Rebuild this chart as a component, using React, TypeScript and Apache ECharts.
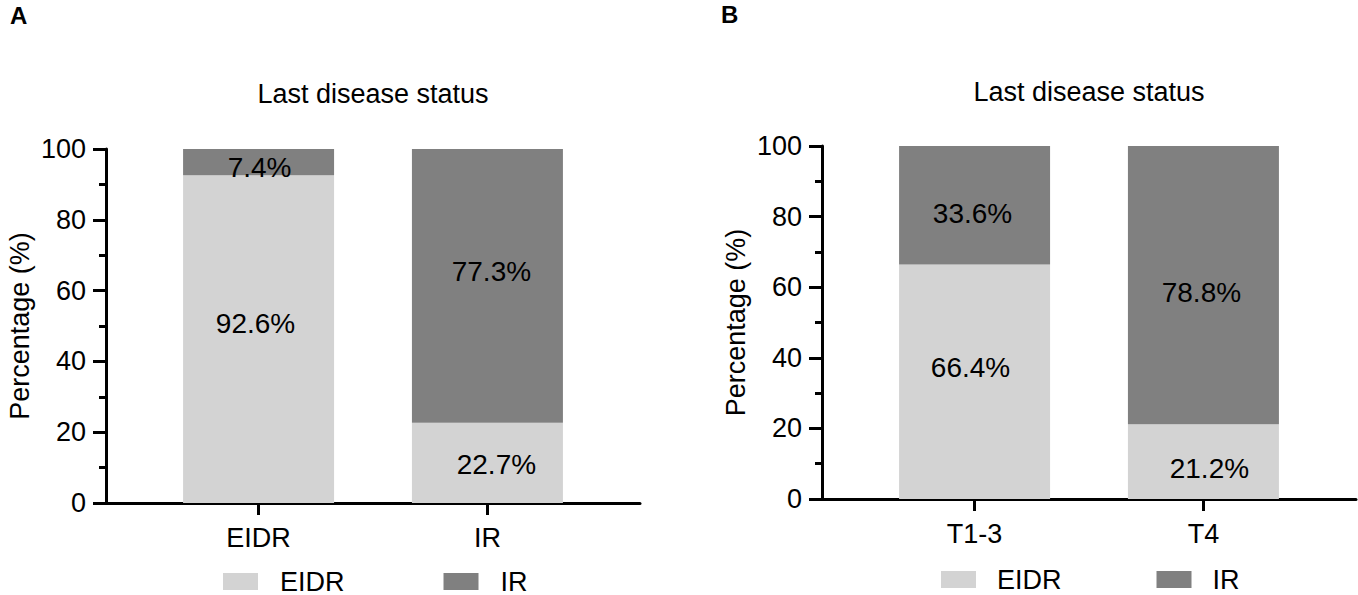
import React, { useEffect, useRef } from 'react';
import * as echarts from 'echarts';

const panelLetters = ['A', 'B'];
const panelTitles = ['Last disease status', 'Last disease status'];
const seriesNames = ['EIDR', 'IR'];
const categoriesA = ['EIDR', 'IR'];
const categoriesB = ['T1-3', 'T4'];
const categoryPositions = [2, 5];
const eidrA = [92.6, 22.7];
const irA = [7.4, 77.3];
const eidrB = [66.4, 21.2];
const irB = [33.6, 78.8];
const yAxisTitle = 'Percentage (%)';

const FONT = '"Liberation Sans", Arial, Helvetica, sans-serif';
const LIGHT = '#d3d3d3';
const DARK = '#808080';

export default function App() {
  const ref = useRef<HTMLDivElement>(null);

  useEffect(() => {
    document.body.style.margin = '0';
    if (!ref.current) return;
    const chart = echarts.init(ref.current, null, { renderer: 'svg' });

    const panels = [
      {
        left: 106, top: 149, height: 354, cats: categoriesA, eidr: eidrA, ir: irA,
        offE: [[-3, -16], [9, 2]], offI: [[1, 5], [4, -14]],
        legendLeft: 223, legendGap: 99, textPad: 17, legendTop: 568,
        titleY: 94, letterX: 10, letterY: 15,
      },
      {
        left: 822, top: 146, height: 353, cats: categoriesB, eidr: eidrB, ir: irB,
        offE: [[-4, -14], [6, 7]], offI: [[-2, 8], [-2, 7]],
        legendLeft: 941, legendGap: 95, textPad: 16, legendTop: 566,
        titleY: 92, letterX: 721, letterY: 14,
      },
    ];
    const width = 534;

    const grid: any[] = [];
    const xAxis: any[] = [];
    const yAxis: any[] = [];
    const series: any[] = [];
    const legend: any[] = [];
    const graphic: any[] = [];

    panels.forEach((p, i) => {
      grid.push({ left: p.left, top: p.top, width, height: p.height, containLabel: false });
      xAxis.push({
        type: 'value', gridIndex: i, min: 0, max: 7,
        axisLine: { show: true, onZero: false, lineStyle: { color: '#000', width: 3 } },
        axisTick: { show: true, customValues: categoryPositions, length: 12, lineStyle: { color: '#000', width: 3 } },
        axisLabel: {
          show: true, customValues: categoryPositions, margin: 21,
          fontSize: 27, color: '#000', fontFamily: FONT,
          formatter: (v: number) => p.cats[categoryPositions.indexOf(v)] ?? '',
        },
        splitLine: { show: false },
      });
      yAxis.push({
        type: 'value', gridIndex: i, min: 0, max: 100, interval: 20,
        name: yAxisTitle, nameLocation: 'middle', nameRotate: 90, nameGap: 73,
        nameTextStyle: { fontSize: 27, color: '#000', fontFamily: FONT },
        axisLine: { show: true, lineStyle: { color: '#000', width: 3 } },
        axisTick: { show: true, length: 13, lineStyle: { color: '#000', width: 3 } },
        minorTick: { show: true, splitNumber: 2, length: 7, lineStyle: { color: '#000', width: 3 } },
        axisLabel: { margin: 20, fontSize: 27, color: '#000', fontFamily: FONT },
        splitLine: { show: false },
        minorSplitLine: { show: false },
      });
      // value order [percentage, position] so that the percentage is the stacked dimension
      const mk = (vals: number[], offs: number[][]) =>
        vals.map((v, k) => ({ value: [v, categoryPositions[k]], label: { offset: offs[k] } }));
      const labelBase = {
        show: true, position: 'inside', fontSize: 28, color: '#000', fontFamily: FONT,
        formatter: (prm: any) => `${prm.value[0]}%`,
      };
      series.push({
        name: seriesNames[0], type: 'bar', xAxisIndex: i, yAxisIndex: i, stack: 'p' + i,
        encode: { x: 1, y: 0 },
        barWidth: 151, itemStyle: { color: LIGHT }, label: labelBase,
        data: mk(p.eidr, p.offE),
      });
      series.push({
        name: seriesNames[1], type: 'bar', xAxisIndex: i, yAxisIndex: i, stack: 'p' + i,
        encode: { x: 1, y: 0 },
        barWidth: 151, itemStyle: { color: DARK }, label: labelBase,
        data: mk(p.ir, p.offI),
      });
      legend.push({
        data: seriesNames, left: p.legendLeft, top: p.legendTop, orient: 'horizontal',
        itemWidth: 35, itemHeight: 17, itemGap: p.legendGap, selectedMode: false,
        icon: 'rect', padding: 0,
        textStyle: { fontSize: 27, color: '#000', fontFamily: FONT, padding: [0, 0, 0, p.textPad] },
      });
      graphic.push({
        type: 'text', x: p.left + width / 2, y: p.titleY,
        style: { text: panelTitles[i], fontSize: 27, fill: '#000', fontFamily: FONT, textAlign: 'center', textVerticalAlign: 'middle' },
      });
      graphic.push({
        type: 'text', x: p.letterX, y: p.letterY,
        style: { text: panelLetters[i], fontSize: 24, fontWeight: 'bold', fill: '#000', fontFamily: FONT, textAlign: 'left', textVerticalAlign: 'middle' },
      });
    });

    chart.setOption({
      animation: false,
      backgroundColor: '#fff',
      grid, xAxis, yAxis, series, legend, graphic,
    });

    return () => chart.dispose();
  }, []);

  return <div ref={ref} style={{ width: 1358, height: 595 }} />;
}
